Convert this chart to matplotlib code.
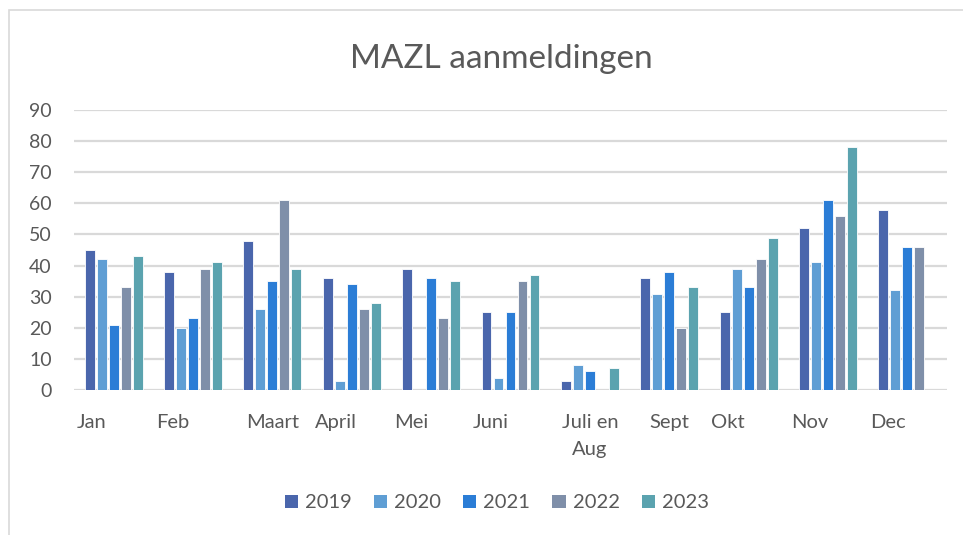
import numpy as np
import matplotlib.pyplot as plt
from matplotlib.patches import Rectangle, Patch

# data
months = ["Jan", "Feb", "Maart", "April", "Mei", "Juni", "Juli en\nAug",
          "Sept", "Okt", "Nov", "Dec"]
years = ["2019", "2020", "2021", "2022", "2023"]
v2019 = [45, 38, 48, 36, 39, 25, 3, 36, 25, 52, 58]
v2020 = [42, 20, 26, 3, 0, 4, 8, 31, 39, 41, 32]
v2021 = [21, 23, 35, 34, 36, 25, 6, 38, 33, 61, 46]
v2022 = [33, 39, 61, 26, 23, 35, 0, 20, 42, 56, 46]
v2023 = [43, 41, 39, 28, 35, 37, 7, 33, 49, 78, 0]
series = [v2019, v2020, v2021, v2022, v2023]

colors = ["#4a66ac", "#5f9ed4", "#2b7dd6", "#7f8fa9", "#5ba3af"]
# short labels sit at the left of their slot, long ones are centred
label_left = [True, True, False, True, True, True, False, False, True, True, True]

plt.rcParams['font.family'] = ['Lato', 'DejaVu Sans']
txt = "#595959"

fig = plt.figure(figsize=(9.63, 5.35), dpi=100)
ax = fig.add_axes([74/963, 1 - 390/535, 873/963, 280/535])

x = np.arange(len(months))
step = 0.151
for i, vals in enumerate(series):
    ax.bar(x + (i - 2) * step, vals, width=0.125, color=colors[i],
           edgecolor="white", linewidth=0.6, zorder=3)

ax.set_xlim(-0.5, len(months) - 0.5)
ax.set_ylim(0, 90)
ax.set_yticks(range(0, 91, 10))
ax.yaxis.grid(True, color="#d9d9d9", linewidth=1.6, zorder=0)
ax.tick_params(axis="y", length=0, pad=16, labelsize=14, labelcolor=txt)
ax.set_xticks([])
for s in ax.spines.values():
    s.set_visible(False)

# category labels
for i, lab in enumerate(months):
    if label_left[i]:
        ax.text(i - 0.5 + 0.03, -0.087, lab, transform=ax.get_xaxis_transform(),
                ha="left", va="top", fontsize=14.5, color=txt)
    else:
        ax.text(i, -0.087, lab, transform=ax.get_xaxis_transform(),
                ha="center", va="top", fontsize=14.5, color=txt, linespacing=1.7,
                multialignment="center")

fig.text(0.521, 0.89, "MAZL aanmeldingen", ha="center", va="center",
         fontsize=24, color=txt)

handles = [Patch(facecolor=c, edgecolor="none") for c in colors]
fig.legend(handles, years, loc="center", bbox_to_anchor=(0.516, 0.06), ncol=5,
           frameon=False, fontsize=14.5, labelcolor=txt, handlelength=0.65,
           handleheight=0.65, handletextpad=0.35, columnspacing=1.1)

# chart area border
fig.patches.append(Rectangle((9/963, -0.05), 1.1, 1 - 10/535 + 0.05,
                             transform=fig.transFigure, fill=False,
                             edgecolor="#d9d9d9", linewidth=1.2))

fig.savefig("out.png", dpi=100)
